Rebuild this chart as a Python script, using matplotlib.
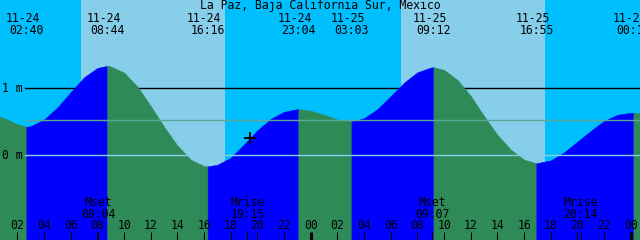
import numpy as np
import matplotlib
matplotlib.use("Agg")
import matplotlib.pyplot as plt

title = "La Paz, Baja California Sur, Mexico"

# hourly tide heights (m), hour 0 = 11-24 00:00
hours = np.arange(0, 50)
heights = [0.61, 0.55, 0.46, 0.43, 0.53, 0.71, 0.94, 1.16, 1.30, 1.32,
           1.23, 1.02, 0.73, 0.42, 0.14, -0.07, -0.165, -0.145, -0.04, 0.16,
           0.37, 0.54, 0.645, 0.685, 0.66, 0.60, 0.53, 0.50, 0.55, 0.685,
           0.88, 1.08, 1.235, 1.305, 1.27, 1.12, 0.88, 0.58, 0.30, 0.08,
           -0.07, -0.12, -0.08, 0.04, 0.20, 0.36, 0.51, 0.60, 0.63, 0.62]

# high / low tides
tide_labels = ["11-24 02:40", "11-24 08:44", "11-24 16:16", "11-24 23:04",
               "11-25 03:03", "11-25 09:12", "11-25 16:55", "11-26 00:12"]
tide_heights = [0.42, 1.33, -0.17, 0.685, 0.50, 1.31, -0.124, 0.63]
tide_kind = ["low", "high", "low", "high", "low", "high", "low", "high"]

sunrise = ["11-24 06:46", "11-25 06:46"]
sunset = ["11-24 17:34", "11-25 17:34"]

moon_names = ["Mset", "Mrise", "Mset", "Mrise"]
moon_labels = ["11-24 08:04", "11-24 19:15", "11-25 09:07", "11-25 20:14"]

now_label = "11-24 19:26"
now_height = 0.25

mean_level = 0.52

NIGHT = "#00bfff"
DAY = "#87ceeb"
FLOOD = "#0000ff"
EBB = "#2e8b57"
FONT = "DejaVu Sans Mono"
FS = 8.3


def to_hours(label):
    date, clock = label.split()
    day = int(date.split("-")[1]) - 24
    hh, mm = clock.split(":")
    return day * 24 + int(hh) + int(mm) / 60


def ypix(p):
    # pixel row from the top -> axes fraction
    return 1 - p / 240


tide_times = [to_hours(s) for s in tide_labels]

fig = plt.figure(figsize=(6.4, 2.4), dpi=100)
ax = fig.add_axes([0, 0, 1, 1])
ax.set_xlim(9.2 / 13.333, 649.2 / 13.333)
ax.set_ylim((155 - 240) / 67, 155 / 67)
ax.axis("off")
fig.patch.set_facecolor(NIGHT)
ax.add_patch(plt.Rectangle((0, 0), 1, 1, transform=ax.transAxes,
                           color=NIGHT, zorder=0))

for a, b in zip(sunrise, sunset):
    ax.axvspan(to_hours(a), to_hours(b), color=DAY, lw=0, zorder=0.5)

# 1 m line sits behind the water
ax.axhline(1, xmin=25 / 640, xmax=1, color="black", lw=1.0, zorder=1)

t_all = np.concatenate([hours, tide_times])
h_all = np.concatenate([heights, tide_heights])
order = np.argsort(t_all)
t_all = t_all[order]
h_all = h_all[order]

bounds = [-1e9] + tide_times + [1e9]
kinds = tide_kind + ["low"]
bottom = (155 - 240) / 67 - 0.1
for i in range(len(bounds) - 1):
    m = (t_all >= bounds[i]) & (t_all <= bounds[i + 1])
    col = FLOOD if kinds[i] == "high" else EBB
    ax.fill_between(t_all[m], h_all[m], bottom, color=col,
                    lw=0.4, edgecolor=col, zorder=2)

ax.axhline(mean_level, xmin=25 / 640, xmax=1, color="#5fa898", lw=1.0, zorder=3)
ax.axhline(0, xmin=25 / 640, xmax=1, color=DAY, lw=1.0, zorder=3)

ax.plot(to_hours(now_label), now_height, marker="+", color="black",
        ms=9, mew=1.4, zorder=5)

tr = ax.get_xaxis_transform()

# title and tide labels
ax.text(0.5, ypix(9), title, transform=ax.transAxes, ha="center",
        va="baseline", family=FONT, fontsize=FS, zorder=6)
for lab, t in zip(tide_labels, tide_times):
    date, clock = lab.split()
    ax.text(t - 3.5 / 13.333, ypix(21.7), date, transform=tr, ha="center",
            va="baseline", family=FONT, fontsize=FS, zorder=6)
    ax.text(t, ypix(34.3), clock, transform=tr, ha="center",
            va="baseline", family=FONT, fontsize=FS, zorder=6)

# depth labels
for v, p in [(1, 92.3), (0, 159.3)]:
    ax.text(2 / 640, ypix(p), "%d m" % v, transform=ax.transAxes,
            ha="left", va="baseline", family=FONT, fontsize=FS, zorder=6)

# moon events
for name, lab in zip(moon_names, moon_labels):
    t = to_hours(lab)
    ax.text(t, ypix(206), name, transform=tr, ha="center", va="baseline",
            family=FONT, fontsize=FS, zorder=6)
    ax.text(t, ypix(218.3), lab.split()[1], transform=tr, ha="center",
            va="baseline", family=FONT, fontsize=FS, zorder=6)
    ax.vlines(t, 0, 8 / 240, transform=tr, color="black", lw=0.75, zorder=6)

# hour axis
for h in range(2, 50, 2):
    ax.text(h, ypix(229.3), "%02d" % (h % 24), transform=tr, ha="center",
            va="baseline", family=FONT, fontsize=FS, zorder=6)
    w = 2.2 if h % 24 == 0 else 0.75
    ax.vlines(h, 0, 8 / 240, transform=tr, color="black", lw=w, zorder=6)

fig.savefig("out.png", dpi=100, facecolor=NIGHT)
